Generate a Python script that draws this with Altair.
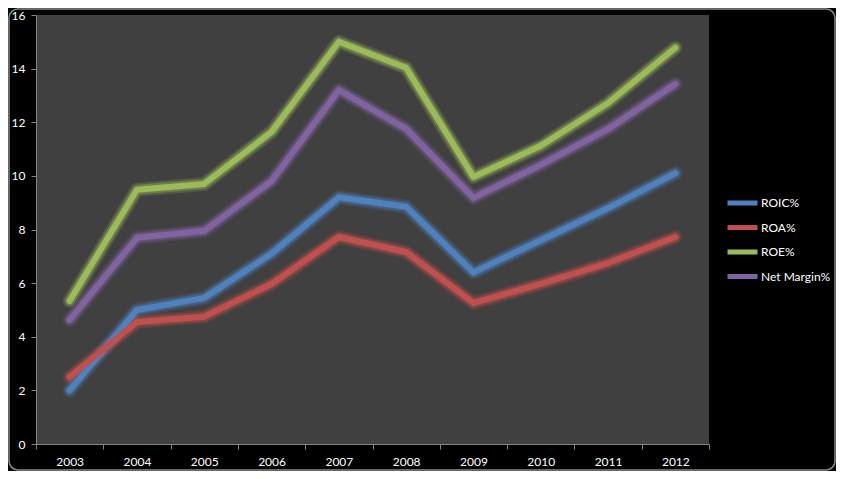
import altair as alt
import pandas as pd

years = ["2003", "2004", "2005", "2006", "2007", "2008", "2009", "2010", "2011", "2012"]
series = ["ROIC%", "ROA%", "ROE%", "Net Margin%"]
roic = [2.0, 5.0, 5.45, 7.1, 9.2, 8.85, 6.4, 7.6, 8.8, 10.1]
roa = [2.5, 4.55, 4.75, 5.97, 7.72, 7.16, 5.26, 5.97, 6.75, 7.72]
roe = [5.34, 9.48, 9.7, 11.64, 15.0, 14.03, 9.96, 11.12, 12.72, 14.78]
net_margin = [4.63, 7.69, 7.95, 9.81, 13.2, 11.75, 9.18, 10.41, 11.75, 13.43]
colors = ["#4F81BD", "#C0504D", "#9BBB59", "#8064A2"]
y_ticks = [0, 2, 4, 6, 8, 10, 12, 14, 16]

rows = []
for name, vals in zip(series, [roic, roa, roe, net_margin]):
    for i, (yr, v) in enumerate(zip(years, vals)):
        rows.append({"Year": yr, "Series": name, "Value": v, "order": i})
df = pd.DataFrame(rows)

FONT = "Lato"
FS = 12
W, H = 673, 429
PAD = {"left": 28, "top": 7, "right": 127, "bottom": 27}

x_enc = alt.X(
    "Year:O",
    sort=years,
    scale=alt.Scale(type="band", paddingInner=0, paddingOuter=0),
    axis=alt.Axis(
        title=None,
        tickBand="extent",
        labelAngle=0,
        tickSize=5,
        labelPadding=7,
        domainColor="#868686",
        tickColor="#868686",
        labelColor="#ffffff",
        labelFont=FONT,
        labelFontSize=FS,
        grid=False,
    ),
)
y_enc = alt.Y(
    "Value:Q",
    scale=alt.Scale(domain=[0, 16], nice=False),
    axis=alt.Axis(
        title=None,
        values=y_ticks,
        tickSize=5,
        labelPadding=6,
        domainColor="#868686",
        tickColor="#868686",
        labelColor="#ffffff",
        labelFont=FONT,
        labelFontSize=FS,
        grid=False,
    ),
)
color_scale = alt.Scale(domain=series, range=colors)
legend = alt.Legend(
    title=None,
    orient="none",
    legendX=689,
    legendY=178,
    symbolType="stroke",
    symbolSize=900,
    symbolStrokeWidth=5,
    symbolOpacity=1,
    clipHeight=20,
    rowPadding=4.5,
    labelOffset=1,
    labelColor="#ffffff",
    labelFont=FONT,
    labelFontSize=FS,
)
color_enc = alt.Color("Series:N", scale=color_scale, sort=series, legend=legend)

base = alt.Chart(df)

glow_outer = base.mark_line(strokeWidth=14, opacity=0.2, strokeJoin="round", strokeCap="round").encode(
    x=x_enc, y=y_enc, color=color_enc, order="order:Q",
)
glow_inner = base.mark_line(strokeWidth=10, opacity=0.38, strokeJoin="round", strokeCap="round").encode(
    x=x_enc, y=y_enc, color=color_enc, order="order:Q",
)
main = base.mark_line(strokeWidth=6, strokeJoin="round", strokeCap="round").encode(
    x=x_enc, y=y_enc, color=color_enc, order="order:Q",
)

border = alt.Chart(alt.Data(values=[{}])).mark_rect(
    fill="transparent", stroke="#8a8a8a", strokeWidth=1.5, cornerRadius=9
).encode(
    x=alt.value(-PAD["left"] + 1),
    x2=alt.value(W + PAD["right"] - 1),
    y=alt.value(-PAD["top"] + 1),
    y2=alt.value(H + PAD["bottom"] - 1),
)

chart = (
    alt.layer(glow_outer, glow_inner, main, border)
    .properties(width=W, height=H, autosize=alt.AutoSizeParams(type="none"), padding=PAD, background="#000000")
    .configure_view(fill="#404040", stroke=None)
)

chart.save("out.html", embed_options={"renderer": "svg", "actions": False})
